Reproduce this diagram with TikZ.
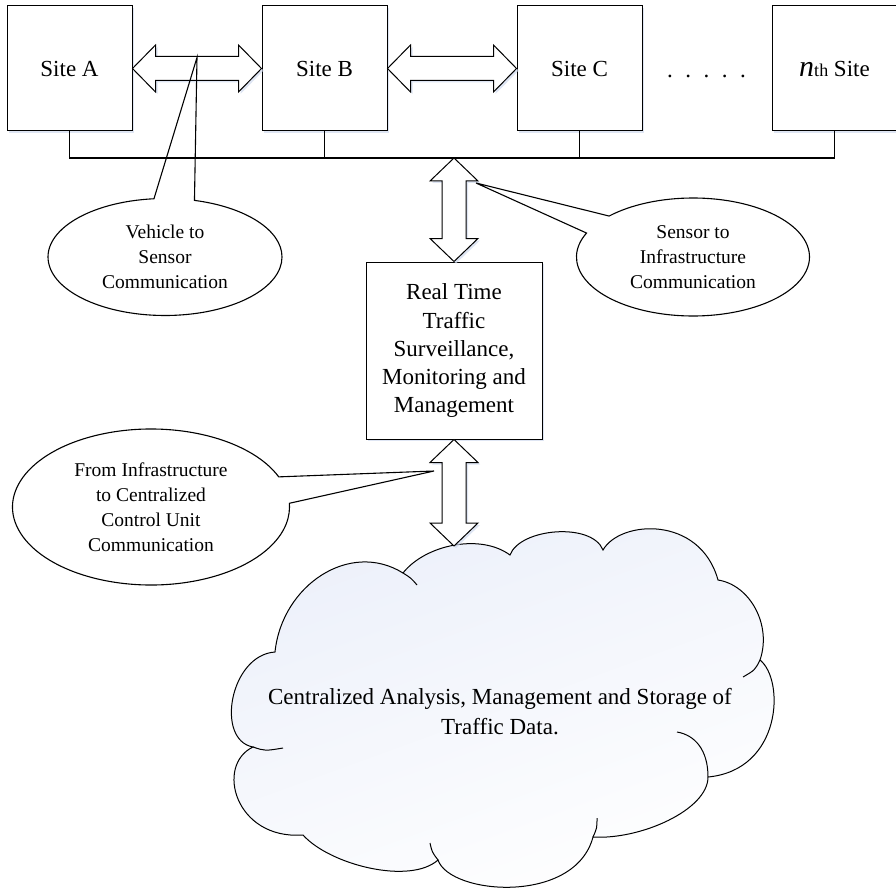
\documentclass[tikz,border=0pt]{standalone}
\usepackage{fontspec}
\setmainfont{Liberation Serif}
\usetikzlibrary{shapes.callouts,shadows,calc}

\definecolor{shadowblue}{RGB}{208,218,238}
\definecolor{cloudblue}{RGB}{236,240,250}

% hollow two-headed block arrows between two anchors
\newcommand{\dharrow}[2]{%
  \draw[blockarrow] (#1) -- ++(23,-23.5) -- ++(0,11.5) -- ($(#2)+(-23,-12)$) -- ++(0,-11.5) -- (#2)
    -- ++(-23,23.5) -- ++(0,-11.5) -- ($(#1)+(23,12)$) -- ++(0,11.5) -- cycle;}
\newcommand{\dvarrow}[2]{%
  \draw[blockarrow] (#1) -- ++(24,23) -- ++(-12,0) -- ($(#2)+(12,-23)$) -- ++(12,0) -- (#2)
    -- ++(-24,-23) -- ++(12,0) -- ($(#1)+(-12,23)$) -- ++(-12,0) -- cycle;}

\begin{document}
\begin{tikzpicture}[x=1pt, y=-1pt,
  softshadow/.style={drop shadow={shadow xshift=2pt, shadow yshift=-2pt, fill=shadowblue, opacity=.7}},
  sitebox/.style={draw, line width=1pt, fill=white, minimum width=125pt, minimum height=125pt,
    inner sep=0pt, font=\fontsize{23}{28}\selectfont, softshadow},
  blockarrow/.style={draw, line width=1pt, fill=white, softshadow},
  callbox/.style={ellipse callout, draw, line width=1.1pt, align=center, inner sep=0pt,
    callout pointer arc=20, font=\fontsize{19.5}{25}\selectfont},
  wire/.style={line width=1.1pt}]

\useasboundingbox (0,0) rectangle (896,896);

% sites along the top
\node[sitebox] (sa) at (69.5,68.5) {Site A};
\node[sitebox] (sb) at (324.5,68.5) {Site B};
\node[sitebox] (sc) at (579.5,68.5) {Site C};
\node[sitebox] (sn) at (834.5,68.5) {{\fontsize{30}{30}\selectfont\itshape n}{\fontsize{18}{18}\selectfont th} Site};
\node[font=\fontsize{23}{28}\selectfont, anchor=base] (dots) at (706.5,77.5) {.\hskip12.5pt.\hskip12.5pt.\hskip12.5pt.\hskip12.5pt.};

% common bus
\coordinate (hub) at (454,158);
\draw[wire] (sa.south) |- (hub) -| (sn.south);
\draw[wire] (sb.south) -- (sb.south |- hub);
\draw[wire] (sc.south) -- (sc.south |- hub);

% real time centre
\node[sitebox, minimum width=176pt, minimum height=177pt, align=center] (rt) at (454,350.5)
  {Real Time\\Traffic\\Surveillance,\\Monitoring and\\Management};

% cloud
\draw[line width=1pt, shading=axis, top color=cloudblue, bottom color=white, shading angle=20]
  (275,652) .. controls (282,585) and (350,540) .. (403,573)
  .. controls (425,545) and (480,533) .. (510,555)
  .. controls (520,528) and (592,522) .. (603,550)
  .. controls (620,520) and (700,515) .. (718,580)
  .. controls (750,585) and (772,625) .. (760,660)
  .. controls (785,680) and (782,770) .. (708,777)
  .. controls (708,810) and (640,840) .. (593,837)
  .. controls (575,905) and (450,895) .. (438,860)
  .. controls (410,885) and (330,865) .. (303,835)
  .. controls (235,840) and (215,765) .. (253,747)
  .. controls (215,740) and (230,655) .. (275,652) -- cycle;
\draw[line width=1pt] (403,573) .. controls (411,578) .. (417,585);
\draw[line width=1pt] (760,660) .. controls (755,670) .. (743,677);
\draw[line width=1pt] (708,777) .. controls (708,750) and (695,735) .. (677,732);
\draw[line width=1pt] (593,837) .. controls (597,828) .. (597,818);
\draw[line width=1pt] (438,860) .. controls (432,852) .. (430,843);
\draw[line width=1pt] (253,747) .. controls (265,751) .. (283,748);
\node[font=\fontsize{23}{30}\selectfont, align=center] (cloud) at (500,712)
  {Centralized Analysis, Management and Storage of\\Traffic Data.};
\coordinate (cloudtop) at (454,546);

% links
\dharrow{sa.east}{sb.west}
\dharrow{sb.east}{sc.west}
\dvarrow{hub}{rt.north}
\dvarrow{rt.south}{cloudtop}

% callouts
\coordinate (tipv) at (197,57.5);
\coordinate (tips) at (476,183);
\coordinate (tipi) at (434,471);
\node[callbox, minimum width=234pt, minimum height=117pt, callout absolute pointer={(tipv)}] (v2s) at (165,257)
  {Vehicle to\\Sensor\\Communication};
\node[callbox, minimum width=233pt, minimum height=118pt, callout absolute pointer={(tips)}] (s2i) at (693,257)
  {Sensor to\\Infrastructure\\Communication};
\node[callbox, minimum width=277pt, minimum height=156pt, callout absolute pointer={(tipi)}] (i2c) at (151,507)
  {From Infrastructure\\to Centralized\\Control Unit\\Communication};
\end{tikzpicture}
\end{document}
